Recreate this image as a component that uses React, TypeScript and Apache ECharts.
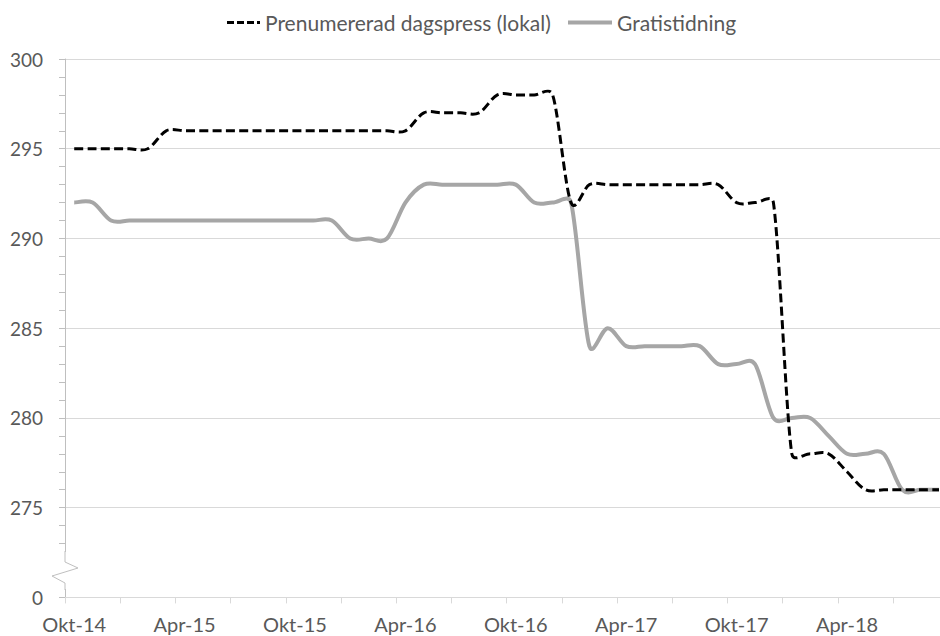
import React, { useEffect, useRef } from "react";
import * as echarts from "echarts";

const categories: string[] = [
  "Okt-14", "Nov-14", "Dec-14",
  "Jan-15", "Feb-15", "Mar-15", "Apr-15", "Maj-15", "Jun-15", "Jul-15", "Aug-15", "Sep-15", "Okt-15", "Nov-15", "Dec-15",
  "Jan-16", "Feb-16", "Mar-16", "Apr-16", "Maj-16", "Jun-16", "Jul-16", "Aug-16", "Sep-16", "Okt-16", "Nov-16", "Dec-16",
  "Jan-17", "Feb-17", "Mar-17", "Apr-17", "Maj-17", "Jun-17", "Jul-17", "Aug-17", "Sep-17", "Okt-17", "Nov-17", "Dec-17",
  "Jan-18", "Feb-18", "Mar-18", "Apr-18", "Maj-18", "Jun-18", "Jul-18", "Aug-18", "Sep-18",
];

const seriesNames = ["Prenumererad dagspress (lokal)", "Gratistidning"];

const prenumererad: number[] = [
  295, 295, 295, 295, 295,
  296, 296, 296, 296, 296, 296, 296, 296, 296, 296, 296, 296, 296, 296,
  297, 297, 297, 297,
  298, 298, 298, 298,
  292,
  293, 293, 293, 293, 293, 293, 293, 293,
  292, 292, 292,
  278, 278, 278,
  277,
  276, 276, 276, 276, 276,
];

const gratis: number[] = [
  292, 292,
  291, 291, 291, 291, 291, 291, 291, 291, 291, 291, 291, 291, 291,
  290, 290, 290,
  292,
  293, 293, 293, 293, 293, 293,
  292, 292, 292,
  284, 285,
  284, 284, 284, 284, 284,
  283, 283, 283,
  280, 280, 280,
  279,
  278, 278, 278,
  276, 276, 276,
];

// y axis: the bottom tick (270 on the scale) stands for the broken axis' 0
const yMin = 270;
const yMax = 300;
const yStep = 5;
const yBreakLabel = "0";

// Smoothed curve through the axis coordinates of the data
// (Catmull-Rom tangents, handles limited to half the adjacent segment)
function smoothPath(pts: number[][]): string {
  const n = pts.length;
  if (!n) return "";
  const dist = (a: number[], b: number[]) => Math.hypot(b[0] - a[0], b[1] - a[1]);
  const tan = pts.map((p, i) => {
    const a = pts[Math.max(0, i - 1)];
    const b = pts[Math.min(n - 1, i + 1)];
    return [(b[0] - a[0]) / 6, (b[1] - a[1]) / 6];
  });
  const handle = (i: number, segLen: number) => {
    const t = tan[i];
    const len = Math.hypot(t[0], t[1]);
    const k = len > 0 ? Math.min(1, (0.5 * segLen) / len) : 0;
    return [t[0] * k, t[1] * k];
  };
  let d = `M${pts[0][0]},${pts[0][1]}`;
  for (let i = 0; i < n - 1; i++) {
    const p1 = pts[i];
    const p2 = pts[i + 1];
    const seg = dist(p1, p2);
    const h1 = handle(i, seg);
    const h2 = handle(i + 1, seg);
    d += ` C${p1[0] + h1[0]},${p1[1] + h1[1]} ${p2[0] - h2[0]},${p2[1] - h2[1]} ${p2[0]},${p2[1]}`;
  }
  return d;
}

function curveSeries(name: string, values: number[], color: string, width: number, dash: number[] | null, z: number) {
  return {
    name,
    type: "custom",
    z,
    data: values.map((v, i) => [i, v]),
    encode: { x: 0, y: 1 },
    itemStyle: { color },
    renderItem: (params: any, api: any) => {
      if (params.dataIndex !== 0) return { type: "group", children: [] };
      const pts = values.map((v, i) => api.coord([i, v]));
      return {
        type: "path",
        shape: { pathData: smoothPath(pts) },
        style: {
          fill: "none",
          stroke: color,
          lineWidth: width,
          lineDash: dash || undefined,
          lineJoin: "round",
        },
      };
    },
  };
}

export default function App() {
  const ref = useRef<HTMLDivElement>(null);

  useEffect(() => {
    if (!ref.current) return;
    const chart = echarts.init(ref.current, undefined, { renderer: "svg" });
    const font = "Lato";
    const textColor = "#595959";
    const axisGray = "#BFBFBF";
    const gridGray = "#D9D9D9";
    const legendFont = 21;

    chart.setOption({
      animation: false,
      backgroundColor: "#ffffff",
      textStyle: { fontFamily: font },
      legend: [
        {
          left: 227,
          top: 12,
          padding: 0,
          itemWidth: 33,
          itemHeight: 3,
          selectedMode: false,
          itemStyle: { borderWidth: 0 },
          textStyle: { fontSize: legendFont, color: textColor, fontFamily: font },
          data: [
            {
              name: seriesNames[0],
              icon: "path://M0,0h7v3h-7z M10,0h7v3h-7z M20,0h7v3h-7z M30,0h3v3h-3z",
            },
          ],
        },
        {
          left: 568,
          top: 12,
          padding: 0,
          itemWidth: 44,
          itemHeight: 4,
          selectedMode: false,
          itemStyle: { borderWidth: 0 },
          textStyle: { fontSize: legendFont, color: textColor, fontFamily: font },
          data: [{ name: seriesNames[1], icon: "rect" }],
        },
      ],
      grid: {
        left: 65,
        top: 59,
        width: 883.2,
        height: 538.4,
        outerBoundsMode: "none",
        containLabel: false,
      },
      xAxis: {
        type: "category",
        data: categories,
        boundaryGap: true,
        axisLine: { show: true, lineStyle: { color: gridGray, width: 1 } },
        axisTick: { show: true, interval: 2, length: 6, lineStyle: { color: gridGray } },
        axisLabel: {
          interval: 5,
          margin: 17,
          fontSize: 20,
          color: textColor,
          fontFamily: font,
        },
        splitLine: { show: false },
      },
      yAxis: {
        type: "value",
        min: yMin,
        max: yMax,
        interval: yStep,
        axisLine: { show: true, lineStyle: { color: axisGray, width: 1 } },
        axisTick: { show: true, length: 6, lineStyle: { color: axisGray } },
        minorTick: { show: true, splitNumber: 5, length: 6, lineStyle: { color: axisGray } },
        splitLine: { show: true, lineStyle: { color: gridGray, width: 1 } },
        minorSplitLine: { show: false },
        axisLabel: {
          formatter: (v: number) => (v === yMin ? yBreakLabel : String(v)),
          margin: 22,
          fontSize: 19,
          color: textColor,
          fontFamily: font,
        },
      },
      series: [
        curveSeries(seriesNames[0], prenumererad, "#000000", 3, [9, 4.3], 3),
        curveSeries(seriesNames[1], gratis, "#A6A6A6", 4, null, 2),
      ],
      graphic: [
        {
          type: "rect",
          z: 100,
          shape: { x: 48, y: 552, width: 34, height: 37 },
          style: { fill: "#ffffff" },
        },
        {
          type: "polyline",
          z: 101,
          shape: {
            points: [
              [65, 551],
              [65, 562],
              [78, 568],
              [52, 576],
              [65, 583],
              [65, 590],
            ],
          },
          style: { stroke: axisGray, lineWidth: 1, fill: "none" },
        },
      ],
    });

    return () => chart.dispose();
  }, []);

  return (
    <div
      ref={ref}
      style={{ position: "absolute", left: 0, top: 0, width: 940, height: 636 }}
    />
  );
}
